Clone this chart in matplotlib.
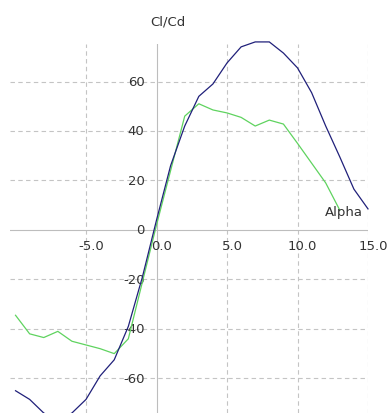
import matplotlib.pyplot as plt
import matplotlib.transforms as mtransforms

alpha_blue = [-10, -9, -8, -7, -6, -5, -4, -3, -2, -1, 0, 1, 2, 3, 4, 5, 6, 7, 8, 9, 10, 11, 12, 13, 14, 15]
clcd_blue = [-65, -68.5, -74, -77, -74, -68.5, -59, -52.5, -39, -19, 4, 26, 42, 54, 59, 67.5, 74, 76, 76, 71.5, 65.5, 55.5, 42, 29.5, 16.5, 8.5]

alpha_green = [-10, -9, -8, -7, -6, -5, -4, -3, -2, -1, 0, 1, 2, 3, 4, 5, 6, 7, 8, 9, 10, 11, 12, 13]
clcd_green = [-34.5, -42, -43.5, -41, -45, -46.5, -48, -50, -44, -21, 2, 24, 46, 51, 48.5, 47.3, 45.5, 42, 44.4, 42.8, 35, 27, 19, 8]

x_ticks = [-5, 0, 5, 10, 15]
y_ticks = [-60, -40, -20, 0, 20, 40, 60]

W, H = 388, 414
fig = plt.figure(figsize=(W / 100, H / 100), dpi=100)
fig.patch.set_facecolor("white")

xmin, xmax = -10.4, 15.0
ymin, ymax = -74.0, 75.2
ax = fig.add_axes([9.9 / W, 0.0, (368 - 9.9) / W, (414 - 44.9) / H])
ax.set_xlim(xmin, xmax)
ax.set_ylim(ymin, ymax)
for s in ax.spines.values():
    s.set_visible(False)
ax.set_xticks([])
ax.set_yticks([])

grid_kw = dict(color="#c4c4c4", linewidth=0.8, linestyle=(0, (4, 3)), zorder=1)
for v in y_ticks:
    if v != 0:
        ax.axhline(v, **grid_kw)
for v in x_ticks:
    if v != 0:
        ax.axvline(v, **grid_kw)
ax.axhline(0, color="#bdbdbd", linewidth=0.8, zorder=1)
ax.axvline(0, color="#bdbdbd", linewidth=0.8, zorder=1)

txt_kw = dict(fontsize=9.5, color="#333333", zorder=2)
xoff = mtransforms.offset_copy(ax.transData, fig=fig, x=5, y=-16, units="dots")
for v in x_ticks:
    ax.text(v, 0, f"{v:.1f}", transform=xoff, ha="center", va="center", **txt_kw)
yoff = mtransforms.offset_copy(ax.transData, fig=fig, x=-12, y=0, units="dots")
for v in y_ticks:
    ax.text(0, v, f"{v}", transform=yoff, ha="right", va="center", **txt_kw)

ax.plot(alpha_green, clcd_green, color="#5fd35f", linewidth=0.9, zorder=3)
ax.plot(alpha_blue, clcd_blue, color="#20207a", linewidth=0.9, zorder=4, clip_on=False)

fig.text(168 / W, 1 - 22 / H, "Cl/Cd", ha="center", va="center", **txt_kw)
fig.text(363 / W, 1 - 213 / H, "Alpha", ha="right", va="center", **txt_kw)

fig.savefig("out.png", dpi=100)
